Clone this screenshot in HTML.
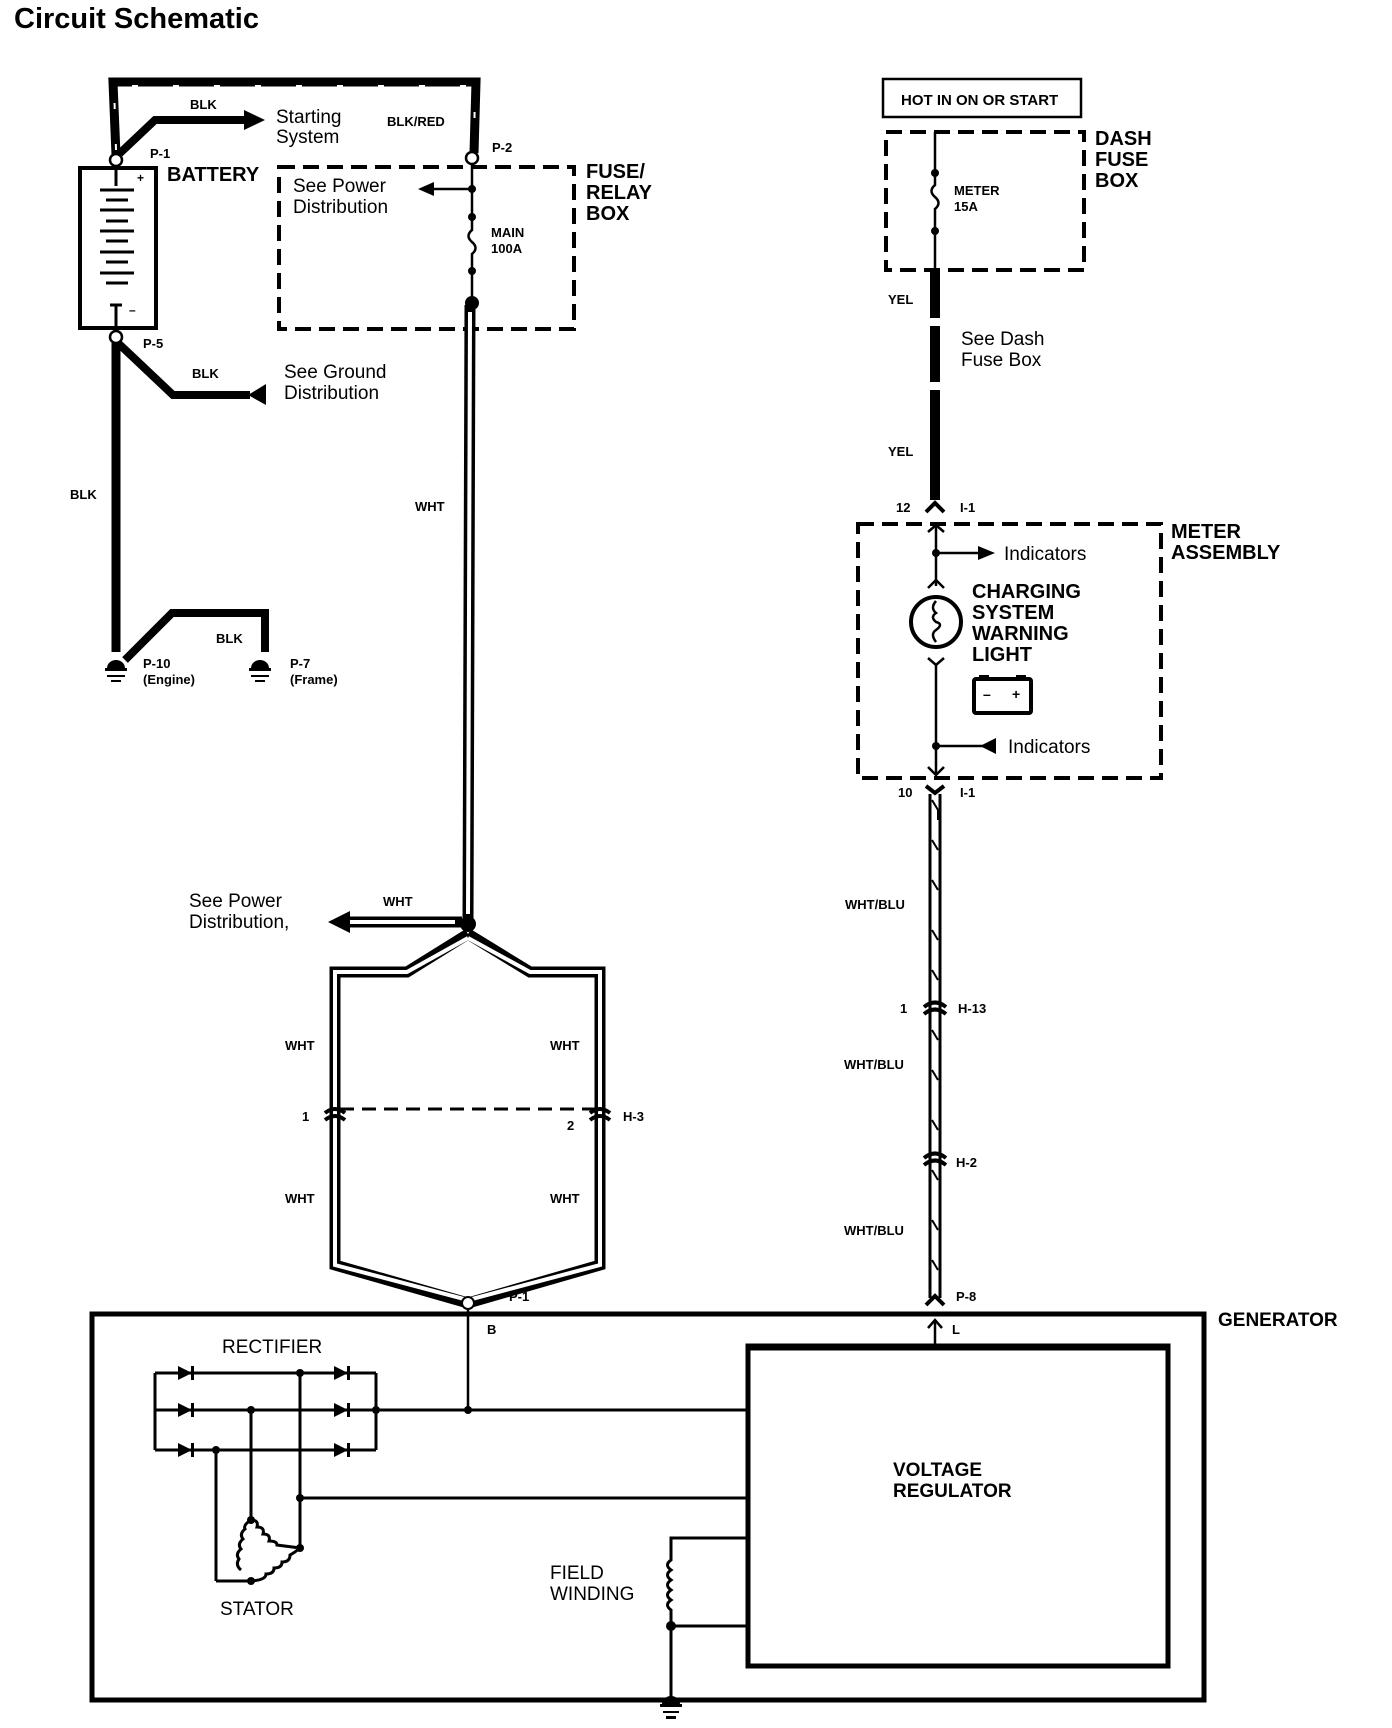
<!DOCTYPE html>
<html><head><meta charset="utf-8"><style>
html,body{margin:0;padding:0;background:#fff}
svg{display:block}
text{font-family:"Liberation Sans",Arial,sans-serif;font-weight:bold;fill:#000}
.s{font-size:13px}
.m{font-size:19px;font-weight:normal}
.b{font-size:20px}
</style></head><body>
<svg width="1392" height="1728" viewBox="0 0 1392 1728" xmlns="http://www.w3.org/2000/svg">
<text x="14" y="28" style="font-size:29px">Circuit Schematic</text>

<path d="M116,155 L113,82 L476,82 L474,153" fill="none" stroke="#000" stroke-width="9"/>
<path d="M116,150 L114,86 L475,86 L474,148" fill="none" stroke="#fff" stroke-width="2" stroke-dasharray="6,35"/>
<path d="M118,155 L155,120 L248,120" fill="none" stroke="#000" stroke-width="8"/>
<polygon points="244,110 265,120 244,130" fill="#000"/>
<text x="190" y="109" class="s">BLK</text>
<text x="276" y="123" class="m">Starting</text>
<text x="276" y="143" class="m">System</text>
<text x="387" y="126" class="s">BLK/RED</text>
<circle cx="116" cy="160" r="6" fill="#fff" stroke="#000" stroke-width="2.5"/>
<text x="150" y="158" class="s">P-1</text>
<circle cx="472" cy="158" r="6" fill="#fff" stroke="#000" stroke-width="2.5"/>
<text x="492" y="152" class="s">P-2</text>

<rect x="80" y="168" width="76" height="160" fill="none" stroke="#000" stroke-width="4"/>
<text x="167" y="181" class="b">BATTERY</text>
<g stroke="#000" stroke-width="3">
<line x1="116" y1="166" x2="116" y2="186"/>
<line x1="100" y1="190" x2="134" y2="190"/>
<line x1="106" y1="200" x2="128" y2="200"/>
<line x1="100" y1="210" x2="134" y2="210"/>
<line x1="106" y1="221" x2="128" y2="221"/>
<line x1="100" y1="231" x2="134" y2="231"/>
<line x1="106" y1="241" x2="128" y2="241"/>
<line x1="100" y1="252" x2="134" y2="252"/>
<line x1="106" y1="262" x2="128" y2="262"/>
<line x1="100" y1="273" x2="134" y2="273"/>
<line x1="106" y1="283" x2="128" y2="283"/>
<line x1="110" y1="305" x2="122" y2="305"/>
<line x1="116" y1="305" x2="116" y2="332"/>
</g>
<text x="137" y="182" style="font-size:12px">+</text>
<text x="129" y="314" style="font-size:12px">–</text>

<circle cx="116" cy="337" r="6" fill="#fff" stroke="#000" stroke-width="2.5"/>
<text x="143" y="348" class="s">P-5</text>
<path d="M118,343 L173,395 L250,395" fill="none" stroke="#000" stroke-width="8"/>
<polygon points="248,395 266,384 266,405" fill="#000"/>
<text x="192" y="378" class="s">BLK</text>
<text x="284" y="378" class="m">See Ground</text>
<text x="284" y="399" class="m">Distribution</text>
<line x1="116" y1="343" x2="116" y2="652" stroke="#000" stroke-width="9"/>
<text x="70" y="499" class="s">BLK</text>
<path d="M125,660 L172,613 L265,613 L265,652" fill="none" stroke="#000" stroke-width="8"/>
<text x="216" y="643" class="s">BLK</text>
<g fill="#000">
<path d="M107,668 a9,8 0 0 1 18,0 z"/><rect x="105" y="668" width="22" height="3"/>
<rect x="107" y="675" width="18" height="2"/><rect x="111" y="680" width="10" height="2"/>
<path d="M251,668 a9,8 0 0 1 18,0 z"/><rect x="249" y="668" width="22" height="3"/>
<rect x="251" y="675" width="18" height="2"/><rect x="255" y="680" width="10" height="2"/>
</g>
<text x="143" y="668" class="s">P-10</text>
<text x="143" y="684" class="s">(Engine)</text>
<text x="290" y="668" class="s">P-7</text>
<text x="290" y="684" class="s">(Frame)</text>

<rect x="279" y="167" width="295" height="162" fill="none" stroke="#000" stroke-width="4" stroke-dasharray="16,8"/>
<text x="586" y="178" class="b">FUSE/</text>
<text x="586" y="199" class="b">RELAY</text>
<text x="586" y="220" class="b">BOX</text>
<text x="293" y="192" class="m">See Power</text>
<text x="293" y="213" class="m">Distribution</text>
<line x1="472" y1="164" x2="472" y2="215" stroke="#000" stroke-width="2.5"/>
<line x1="432" y1="189" x2="472" y2="189" stroke="#000" stroke-width="2.5"/>
<polygon points="418,189 434,182 434,196" fill="#000"/>
<circle cx="472" cy="189" r="4"/><circle cx="472" cy="217" r="4"/><circle cx="472" cy="271" r="4"/>
<path d="M472,217 L472,230 q-7,6 0,12 q7,6 0,12 L472,271 L472,300" fill="none" stroke="#000" stroke-width="2.5"/>
<text x="491" y="237" class="s">MAIN</text>
<text x="491" y="253" class="s">100A</text>
<circle cx="472" cy="303" r="7"/>

<g fill="none" stroke="#000" stroke-width="11">
<line x1="470" y1="305" x2="468" y2="920"/>
<line x1="462" y1="922" x2="350" y2="922"/>
<path d="M468,934 L407,972 L335,972 L335,1265 L468,1303 L600,1265 L600,972 L530,972 L468,934"/>
</g>
<g fill="none" stroke="#fff" stroke-width="4">
<line x1="470" y1="312" x2="468" y2="914"/>
<line x1="455" y1="922" x2="350" y2="922"/>
<path d="M468,938 L407,972 L335,972 L335,1265 L468,1300 L600,1265 L600,972 L530,972 L468,938"/>
</g>
<polygon points="328,922 350,911 350,933" fill="#000"/>
<circle cx="468" cy="924" r="8"/>
<text x="415" y="511" class="s">WHT</text>
<text x="189" y="907" class="m">See Power</text>
<text x="189" y="928" class="m">Distribution,</text>
<text x="383" y="906" class="s">WHT</text>
<line x1="340" y1="1109" x2="595" y2="1109" stroke="#000" stroke-width="3" stroke-dasharray="14,8"/>
<g fill="none" stroke="#000" stroke-width="4">
<path d="M325,1113 q10,-8 20,0"/><path d="M325,1120 q10,-8 20,0"/>
<path d="M590,1113 q10,-8 20,0"/><path d="M590,1120 q10,-8 20,0"/>
</g>
<text x="285" y="1050" class="s">WHT</text><text x="550" y="1050" class="s">WHT</text>
<text x="285" y="1203" class="s">WHT</text><text x="550" y="1203" class="s">WHT</text>
<text x="302" y="1121" class="s">1</text>
<text x="567" y="1130" class="s">2</text>
<text x="623" y="1121" class="s">H-3</text>
<circle cx="468" cy="1303" r="6" fill="#fff" stroke="#000" stroke-width="2"/>
<text x="509" y="1301" class="s">P-1</text>
<text x="487" y="1334" class="s">B</text>

<rect x="883" y="79" width="198" height="38" fill="none" stroke="#000" stroke-width="2.5"/>
<text x="901" y="105" style="font-size:15px">HOT IN ON OR START</text>
<rect x="886" y="132" width="198" height="138" fill="none" stroke="#000" stroke-width="4" stroke-dasharray="16,8"/>
<text x="1095" y="145" class="b">DASH</text>
<text x="1095" y="166" class="b">FUSE</text>
<text x="1095" y="187" class="b">BOX</text>
<path d="M935,132 L935,173 L935,185 q-7,6 0,12 q7,6 0,12 L935,232 L935,270" fill="none" stroke="#000" stroke-width="2.5"/>
<circle cx="935" cy="173" r="4"/><circle cx="935" cy="231" r="4"/>
<text x="954" y="195" class="s">METER</text>
<text x="954" y="211" class="s">15A</text>
<line x1="935" y1="270" x2="935" y2="500" stroke="#000" stroke-width="10"/>
<line x1="935" y1="318" x2="935" y2="326" stroke="#fff" stroke-width="10"/>
<line x1="935" y1="382" x2="935" y2="390" stroke="#fff" stroke-width="10"/>
<text x="888" y="304" class="s">YEL</text>
<text x="961" y="345" class="m">See Dash</text>
<text x="961" y="366" class="m">Fuse Box</text>
<text x="888" y="456" class="s">YEL</text>
<path d="M926,512 L935,503 L944,512" fill="none" stroke="#000" stroke-width="4"/>
<text x="896" y="512" class="s">12</text>
<text x="960" y="512" class="s">I-1</text>

<rect x="858" y="524" width="303" height="254" fill="none" stroke="#000" stroke-width="4" stroke-dasharray="16,8"/>
<text x="1171" y="538" class="b">METER</text>
<text x="1171" y="559" class="b">ASSEMBLY</text>
<path d="M928,532 L936,525 L944,532" fill="none" stroke="#000" stroke-width="2.5"/>
<line x1="936" y1="525" x2="936" y2="586" stroke="#000" stroke-width="2.5"/>
<circle cx="936" cy="553" r="4"/>
<line x1="936" y1="553" x2="980" y2="553" stroke="#000" stroke-width="2.5"/>
<polygon points="978,546 995,553 978,560" fill="#000"/>
<text x="1004" y="560" class="m">Indicators</text>
<path d="M928,588 L936,580 L944,588" fill="none" stroke="#000" stroke-width="2.5"/>
<circle cx="936" cy="622" r="25" fill="none" stroke="#000" stroke-width="4"/>
<path d="M936,601 q-6,7 0,12 q-6,4 0,9 q8,2 0,8 q-6,4 0,12" fill="none" stroke="#000" stroke-width="2.5"/>
<path d="M928,658 L936,665 L944,658" fill="none" stroke="#000" stroke-width="2.5"/>
<line x1="936" y1="665" x2="936" y2="775" stroke="#000" stroke-width="2.5"/>
<text x="972" y="598" class="b">CHARGING</text>
<text x="972" y="619" class="b">SYSTEM</text>
<text x="972" y="640" class="b">WARNING</text>
<text x="972" y="661" class="b">LIGHT</text>
<rect x="974" y="679" width="57" height="34" rx="2" fill="none" stroke="#000" stroke-width="4"/>
<rect x="979" y="675" width="10" height="5"/><rect x="1016" y="675" width="10" height="5"/>
<text x="983" y="699" style="font-size:14px">–</text><text x="1012" y="699" style="font-size:14px">+</text>
<circle cx="936" cy="746" r="4"/>
<line x1="936" y1="746" x2="985" y2="746" stroke="#000" stroke-width="2.5"/>
<polygon points="980,746 996,738 996,754" fill="#000"/>
<text x="1008" y="753" class="m">Indicators</text>
<path d="M928,767 L936,775 L944,767" fill="none" stroke="#000" stroke-width="2.5"/>
<path d="M926,786 L935,793 L944,786" fill="none" stroke="#000" stroke-width="4"/>
<text x="898" y="797" class="s">10</text>
<text x="960" y="797" class="s">I-1</text>
<g fill="none" stroke="#000" stroke-width="3">
<line x1="930" y1="794" x2="930" y2="1298"/><line x1="940" y1="794" x2="940" y2="1298"/>
</g>
<path d="M932,800 l6,10 v10 M932,840 l6,10 M932,880 l6,10 M932,930 l6,10 M932,970 l6,10 M932,1030 l6,10 M932,1070 l6,10 M932,1120 l6,10 M932,1170 l6,10 M932,1220 l6,10 M932,1260 l6,10" fill="none" stroke="#000" stroke-width="2"/>
<g fill="none" stroke="#000" stroke-width="4">
<path d="M924,1007 q11,-9 22,0"/><path d="M924,1014 q11,-9 22,0"/>
<path d="M924,1158 q11,-9 22,0"/><path d="M924,1165 q11,-9 22,0"/>
</g>
<path d="M926,1305 L935,1296 L944,1305" fill="none" stroke="#000" stroke-width="4"/>
<text x="845" y="909" class="s">WHT/BLU</text>
<text x="900" y="1013" class="s">1</text>
<text x="958" y="1013" class="s">H-13</text>
<text x="844" y="1069" class="s">WHT/BLU</text>
<text x="956" y="1167" class="s">H-2</text>
<text x="844" y="1235" class="s">WHT/BLU</text>
<text x="956" y="1301" class="s">P-8</text>
<text x="952" y="1334" class="s">L</text>

<rect x="92" y="1314" width="1112" height="386" fill="none" stroke="#000" stroke-width="5"/>
<text x="1218" y="1326" style="font-size:19px">GENERATOR</text>
<line x1="935" y1="1322" x2="935" y2="1344" stroke="#000" stroke-width="2.5"/>
<path d="M928,1328 L935,1320 L942,1328" fill="none" stroke="#000" stroke-width="2.5"/>
<line x1="468" y1="1309" x2="468" y2="1410" stroke="#000" stroke-width="2.5"/>
<rect x="748" y="1346" width="420" height="320" fill="none" stroke="#000" stroke-width="5"/>
<line x1="746" y1="1347" x2="1170" y2="1347" stroke="#000" stroke-width="7"/>
<text x="893" y="1476" class="m" style="font-weight:bold">VOLTAGE</text>
<text x="893" y="1497" class="m" style="font-weight:bold">REGULATOR</text>
<text x="222" y="1353" class="m">RECTIFIER</text>
<g stroke="#000" stroke-width="3" fill="none">
<line x1="155" y1="1373" x2="376" y2="1373"/>
<line x1="155" y1="1410" x2="746" y2="1410"/>
<line x1="155" y1="1450" x2="376" y2="1450"/>
<line x1="155" y1="1373" x2="155" y2="1450"/>
<line x1="376" y1="1373" x2="376" y2="1450"/>
<line x1="300" y1="1373" x2="300" y2="1548"/>
<line x1="251" y1="1410" x2="251" y2="1520"/>
<line x1="216" y1="1450" x2="216" y2="1581"/>
<line x1="216" y1="1581" x2="251" y2="1581"/>
<line x1="300" y1="1498" x2="746" y2="1498"/>
<path d="M251,1520 q8,0 6,7 q8,0 6,7 q8,0 6,7 q8,0 8,4 L300,1548 M300,1548 q-6,5 -10,7 q0,7 -8,7 q0,6 -8,6 q0,6 -8,6 q0,6 -15,7 M251,1520 q-8,5 -6,9 q-6,5 -2,10 q-6,5 -2,10 q-6,5 -2,10 q-4,6 2,11"/>
<path d="M746,1538 L671,1538 L671,1560 q-7,5 0,10 q-7,5 0,10 q-7,5 0,10 q-7,5 0,10 q-7,5 0,10 L671,1626 L671,1700 M671,1626 L746,1626"/>
</g>
<g fill="#000">
<polygon points="178,1366 192,1373 178,1380"/><rect x="191" y="1366" width="3" height="14"/>
<polygon points="178,1403 192,1410 178,1417"/><rect x="191" y="1403" width="3" height="14"/>
<polygon points="178,1443 192,1450 178,1457"/><rect x="191" y="1443" width="3" height="14"/>
<polygon points="334,1366 348,1373 334,1380"/><rect x="347" y="1366" width="3" height="14"/>
<polygon points="334,1403 348,1410 334,1417"/><rect x="347" y="1403" width="3" height="14"/>
<polygon points="334,1443 348,1450 334,1457"/><rect x="347" y="1443" width="3" height="14"/>
<circle cx="300" cy="1373" r="4"/><circle cx="251" cy="1410" r="4"/><circle cx="376" cy="1410" r="4"/>
<circle cx="468" cy="1410" r="4"/><circle cx="216" cy="1450" r="4"/><circle cx="300" cy="1498" r="4"/>
<circle cx="251" cy="1520" r="4"/><circle cx="300" cy="1548" r="4"/><circle cx="251" cy="1581" r="4"/>
<circle cx="671" cy="1626" r="5"/>
<path d="M662,1704 a9,8 0 0 1 18,0 z"/><rect x="660" y="1704" width="22" height="3"/>
<rect x="663" y="1711" width="16" height="2"/><rect x="666" y="1716" width="10" height="3"/>
</g>
<text x="220" y="1615" class="m">STATOR</text>
<text x="550" y="1579" class="m">FIELD</text>
<text x="550" y="1600" class="m">WINDING</text>
</svg>
</body></html>
